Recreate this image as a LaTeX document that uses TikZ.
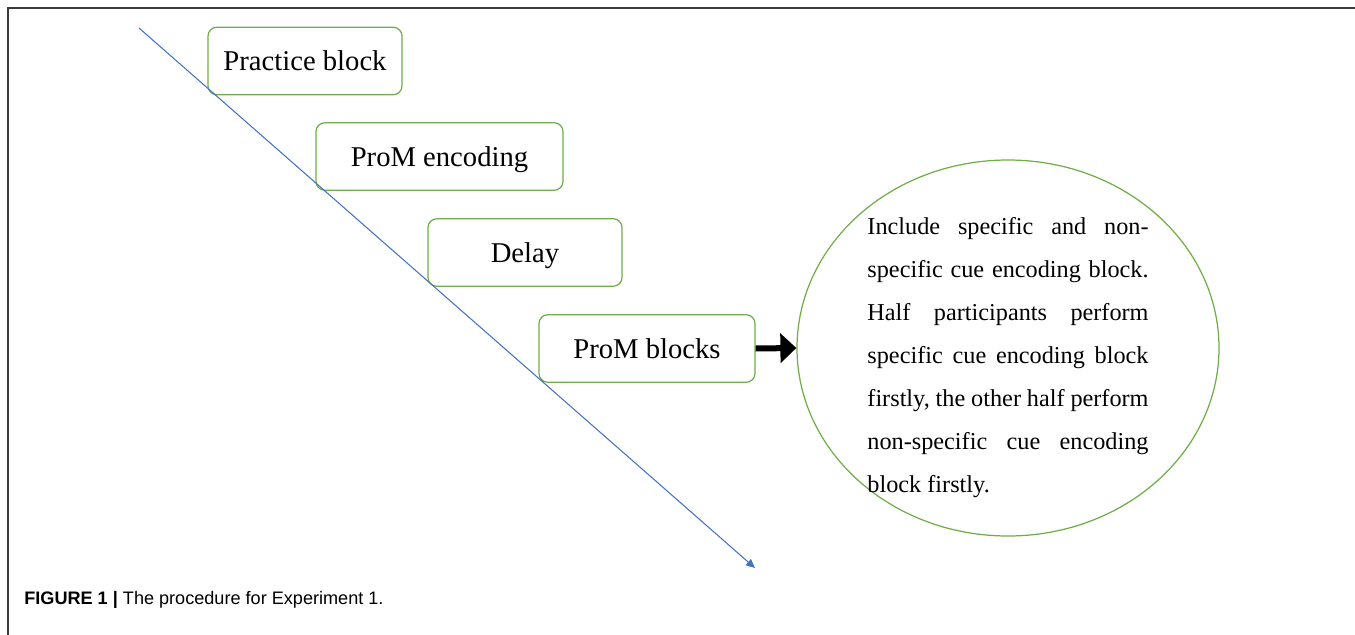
\documentclass[tikz,border=0pt]{standalone}
\usepackage{fontspec}
\setmainfont{Liberation Serif}
\setsansfont{Liberation Sans}
\usetikzlibrary{arrows.meta,shapes.geometric}
\definecolor{boxgreen}{HTML}{70AD47}
\definecolor{lineblue}{HTML}{4472C4}
\definecolor{framegrey}{HTML}{3A3A3A}

\begin{document}
\begin{tikzpicture}[
  stage/.style={draw=boxgreen,line width=0.7pt,rounded corners=5pt,minimum height=1.35cm,
                font=\fontsize{16.3}{19}\selectfont,inner sep=0pt,text depth=0pt},
  cue/.style={ellipse,draw=boxgreen,line width=0.7pt,minimum width=8.44cm,minimum height=7.52cm,inner sep=0pt},
  a/.style={-{Triangle[length=3.2mm,width=5.8mm]},line width=1.2mm}]
\useasboundingbox (0,0) rectangle (27.1,-12.7);
\draw[framegrey,line width=0.9pt] (27.1,-0.16) -- (0.16,-0.16) -- (0.16,-12.7);

\node[stage,minimum width=3.88cm](practice) at (6.10,-1.22){Practice block};
\node[stage,minimum width=4.94cm](encoding) at (8.79,-3.13){ProM encoding};
\node[stage,minimum width=3.88cm](delay) at (10.50,-5.05){Delay};
\node[stage,minimum width=4.32cm](blocks) at (12.94,-6.97){ProM blocks};

\node[cue](order) at (20.16,-6.96){};
\node[text width=160pt,align=justify,inner sep=0pt,
      font=\fontsize{13.8}{24.5}\selectfont](orderText) at ([yshift=-0.19cm]order.center){%
  Include specific and non-\linebreak specific cue encoding block.\linebreak
  Half participants perform\linebreak specific cue encoding block\linebreak
  firstly, the other half perform\linebreak non-specific cue encoding\linebreak
  block firstly.};

\coordinate(tStart) at (2.78,-0.56); \coordinate(tEnd) at (15.10,-11.36);
\draw[-{Triangle[length=1.8mm,width=1.6mm]},lineblue,line width=0.6pt](tStart)--(tEnd);
\draw[a](blocks.east)--(order.west);

\node[anchor=base west,inner sep=0pt,font=\sffamily\fontsize{10.3}{12}\selectfont](caption)
  at (0.48,-12.08){\textbf{FIGURE 1 |} The procedure for Experiment 1.};
\end{tikzpicture}
\end{document}
